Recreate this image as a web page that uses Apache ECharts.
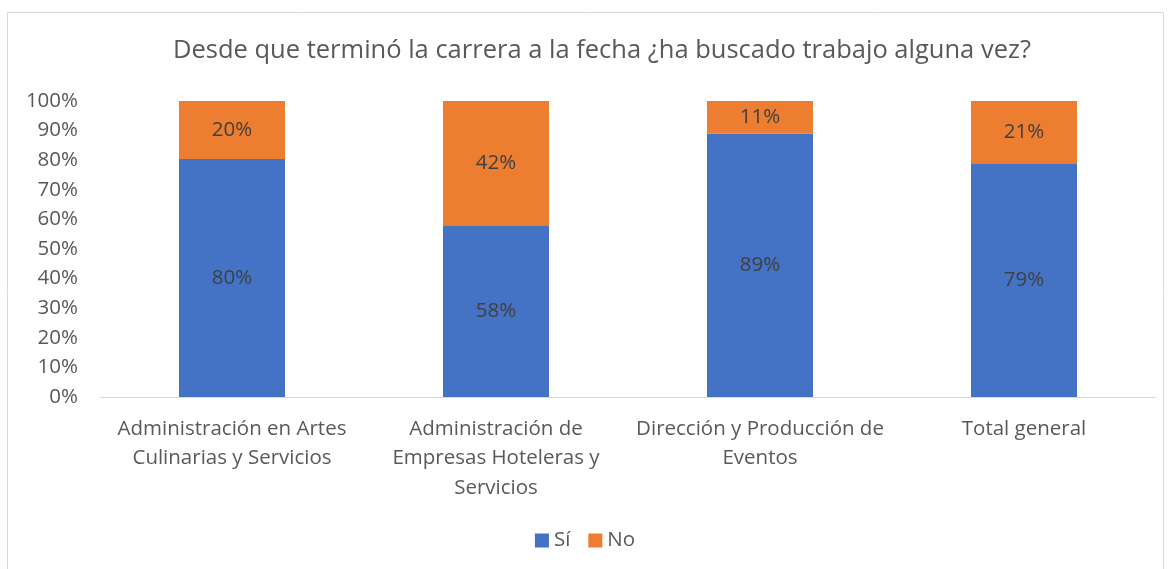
<!DOCTYPE html>
<html>
<head>
<meta charset="utf-8">
<script src="https://cdn.jsdelivr.net/npm/echarts@6/dist/echarts.min.js"></script>
<style>
  html, body { margin: 0; padding: 0; background: #fff; }
  #chart { width: 1170px; height: 569px; }
</style>
</head>
<body>
<div id="chart"></div>
<script>
// datos
const categorias = [
  'Administración en Artes\nCulinarias y Servicios',
  'Administración de\nEmpresas Hoteleras y\nServicios',
  'Dirección y Producción de\nEventos',
  'Total general'
];
const si = [80.4, 57.8, 88.9, 79.0];
const no = [19.6, 42.2, 11.1, 21.0];
const ticksY = [0, 10, 20, 30, 40, 50, 60, 70, 80, 90, 100];

const fuente = '"Open Sans", sans-serif';

const etiqueta = {
  show: true,
  position: 'inside',
  color: '#404040',
  fontSize: 20.5,
  fontFamily: fuente,
  formatter: function (p) {
    return Math.round(p.value) + '%';
  }
};

let myChart = echarts.init(document.getElementById('chart'));
myChart.setOption({
  animation: false,
  title: {
    text: 'Desde que terminó la carrera a la fecha ¿ha buscado trabajo alguna vez?',
    left: 168,
    top: 33,
    textStyle: { color: '#595959', fontSize: 25.5, fontWeight: 'normal', fontFamily: fuente }
  },
  graphic: [{
    type: 'rect',
    shape: { x: 7.5, y: 12.5, width: 1156, height: 570 },
    style: { fill: 'none', stroke: '#d9d9d9', lineWidth: 1 },
    silent: true
  }],
  legend: {
    bottom: 13,
    left: 'center',
    itemWidth: 14,
    itemHeight: 14,
    itemGap: 18,
    icon: 'rect',
    textStyle: { color: '#595959', fontSize: 20.5, fontFamily: fuente },
    data: ['Sí', 'No']
  },
  grid: { left: 100, right: 14, top: 101, bottom: 172, containLabel: false },
  xAxis: {
    type: 'category',
    data: categorias,
    axisLine: { lineStyle: { color: '#d9d9d9', width: 1 } },
    axisTick: { show: false },
    axisLabel: {
      color: '#595959',
      fontSize: 20.5,
      fontFamily: fuente,
      lineHeight: 29.5,
      margin: 17,
      interval: 0
    }
  },
  yAxis: {
    type: 'value',
    min: 0,
    max: 100,
    interval: 10,
    splitLine: { show: false },
    axisLine: { show: false },
    axisTick: { show: false },
    axisLabel: {
      color: '#595959',
      fontSize: 20.5,
      fontFamily: fuente,
      margin: 22,
      formatter: function (v) { return ticksY.indexOf(v) >= 0 ? v + '%' : ''; }
    }
  },
  series: [
    {
      name: 'Sí',
      type: 'bar',
      stack: 'total',
      data: si,
      barWidth: 106,
      itemStyle: { color: '#4472c4' },
      label: etiqueta
    },
    {
      name: 'No',
      type: 'bar',
      stack: 'total',
      data: no,
      barWidth: 106,
      itemStyle: { color: '#ed7d31' },
      label: etiqueta
    }
  ]
});
</script>
</body>
</html>
